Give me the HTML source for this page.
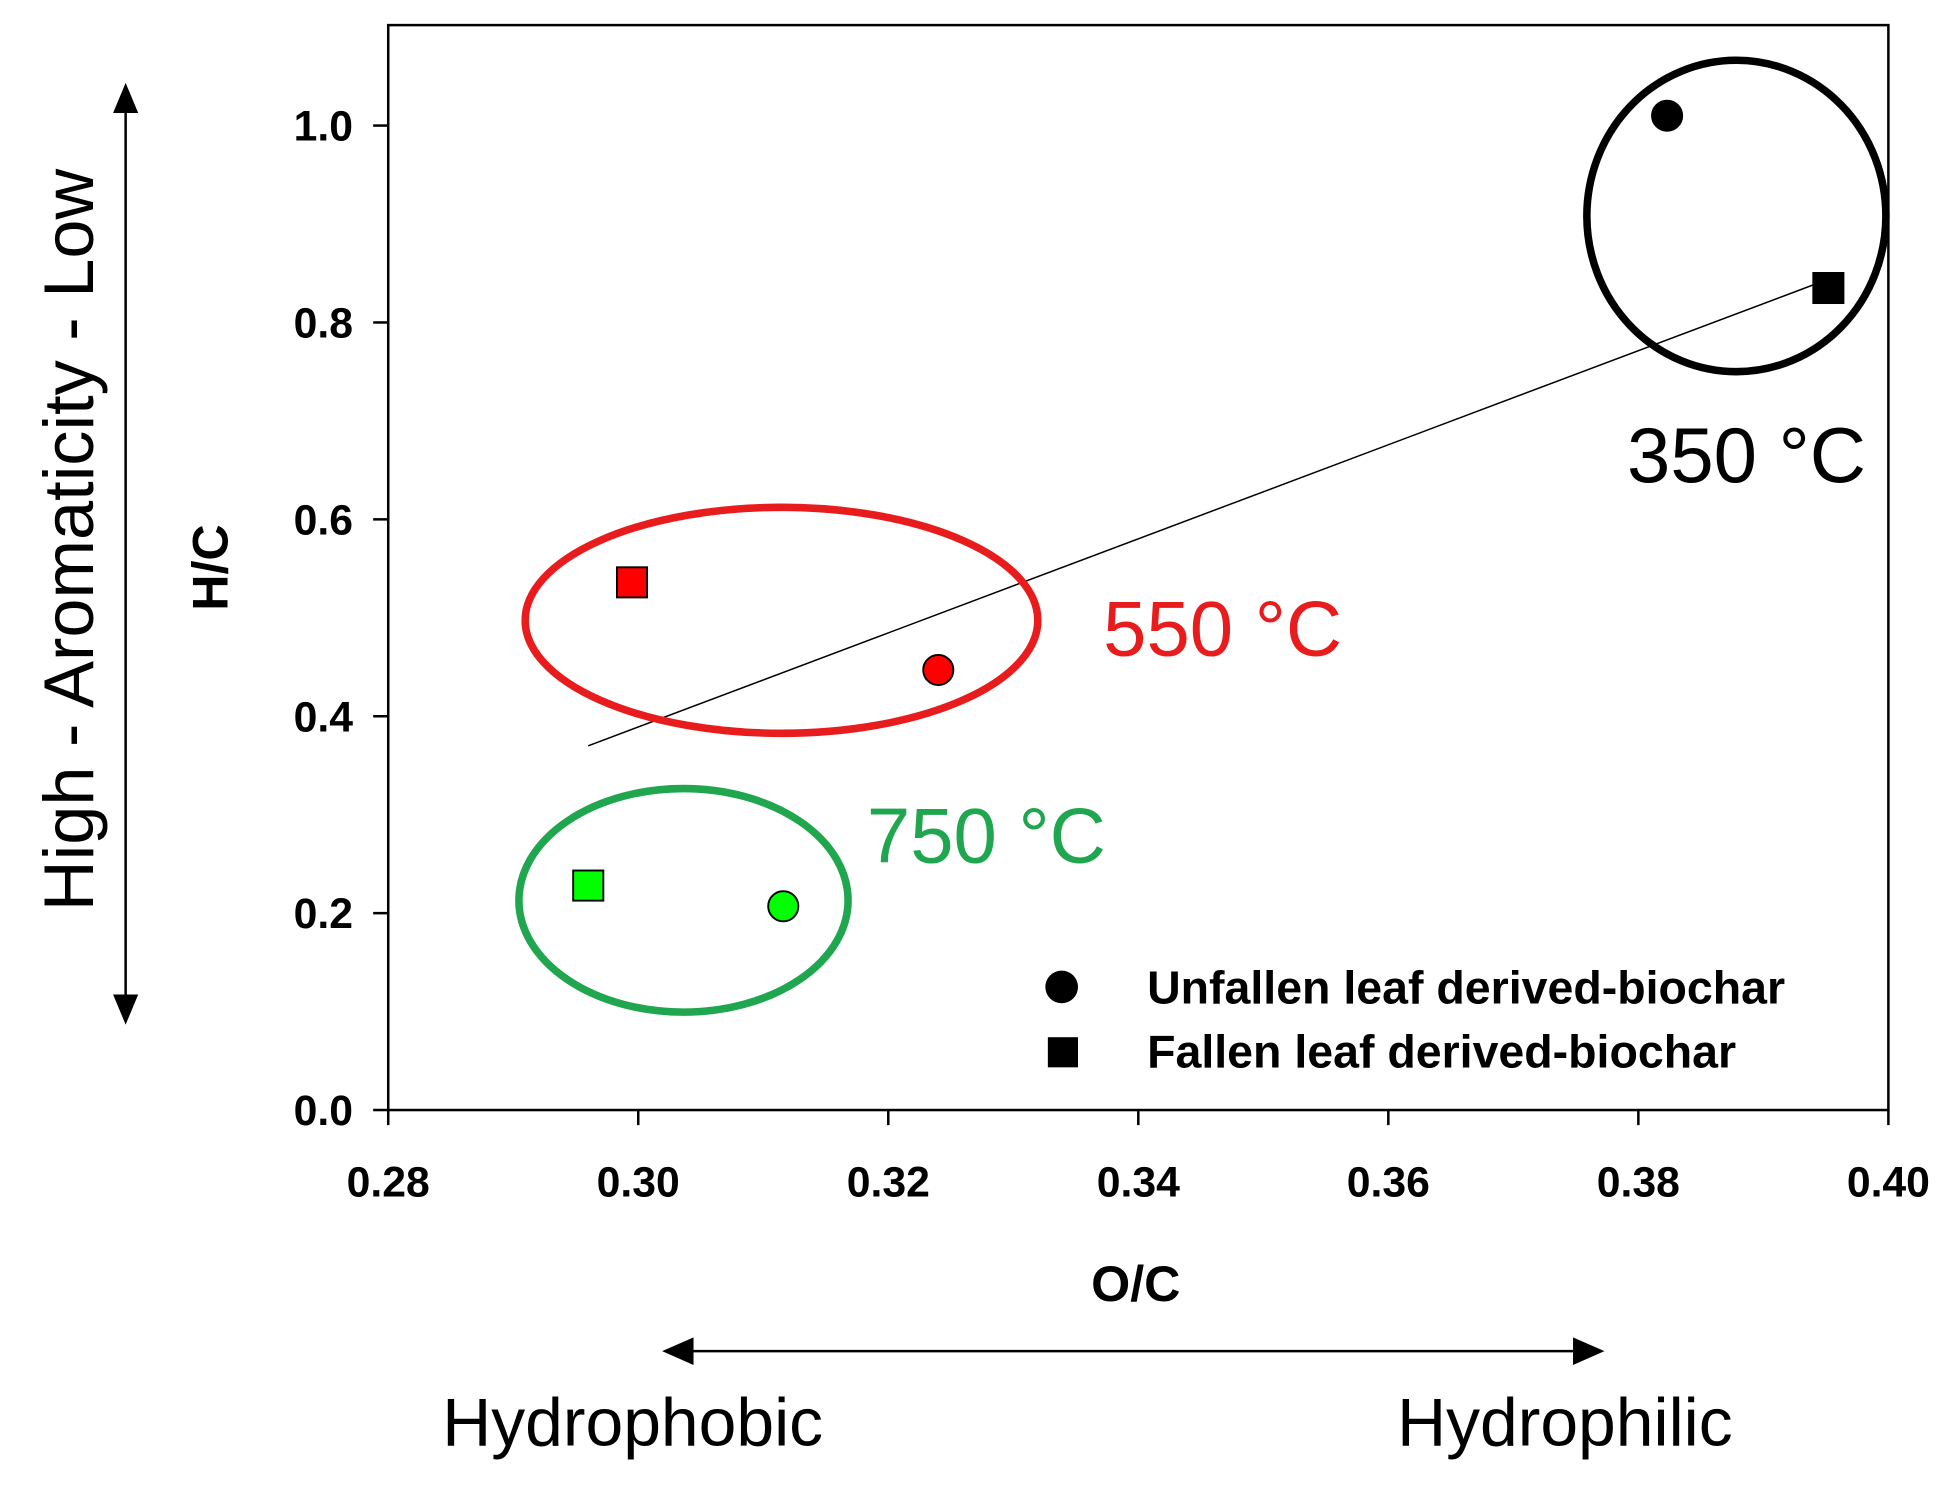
<!DOCTYPE html>
<html><head><meta charset="utf-8"><style>body{margin:0;background:#fff}svg{display:block}</style></head>
<body>
<svg width="1960" height="1488" viewBox="0 0 1560 1185" preserveAspectRatio="none" font-family="Liberation Sans, sans-serif">
<rect x="309" y="20" width="1194" height="864" fill="none" stroke="#000" stroke-width="2"/>
<g id="axes"></g>
<g id="marks"></g>
<ellipse cx="1382" cy="172" rx="119" ry="124" fill="none" stroke="#000" stroke-width="6"/>
<ellipse cx="622" cy="494" rx="204" ry="90" fill="none" stroke="#e81c1c" stroke-width="6"/>
<ellipse cx="544" cy="717" rx="131" ry="89" fill="none" stroke="#1fa64e" stroke-width="6"/>
<text x="1295" y="384" font-size="62" fill="#000">350 °C</text>
<text x="878" y="522" font-size="62" fill="#e81c1c">550 °C</text>
<text x="690" y="687" font-size="62" fill="#1fa64e">750 °C</text>
<circle cx="845" cy="786" r="13" fill="#000"/>
<text x="913" y="799" font-size="37" font-weight="bold">Unfallen leaf derived-biochar</text>
<rect x="834" y="826" width="24" height="24" fill="#000"/>
<text x="913" y="850" font-size="37" font-weight="bold">Fallen leaf derived-biochar</text>
<text x="904" y="1036" font-size="40" font-weight="bold" text-anchor="middle">O/C</text>
<text transform="translate(181,452) rotate(-90)" font-size="40" font-weight="bold" text-anchor="middle">H/C</text>
<line x1="100" y1="80" x2="100" y2="805" stroke="#000" stroke-width="2"/>
<polygon points="100,66 90,90 110,90" fill="#000"/><polygon points="100,816 90,792 110,792" fill="#000"/>
<text transform="translate(74,430) rotate(-90)" font-size="56" text-anchor="middle">High - Aromaticity - Low</text>
<line x1="540" y1="1076" x2="1265" y2="1076" stroke="#000" stroke-width="2"/>
<polygon points="527,1076 552,1065 552,1087" fill="#000"/><polygon points="1277,1076 1252,1065 1252,1087" fill="#000"/>
<text x="352" y="1151" font-size="54">Hydrophobic</text>
<text x="1112" y="1151" font-size="54">Hydrophilic</text>
</svg>
<script>
const xTicks=[0.28,0.30,0.32,0.34,0.36,0.38,0.40];
const yTicks=[0.0,0.2,0.4,0.6,0.8,1.0];
const unfallenX=[0.3823,0.3240,0.3116];
const unfallenY=[1.010,0.447,0.207];
const fallenX=[0.3952,0.2995,0.2960];
const fallenY=[0.835,0.536,0.228];
const fillColors=['#000000','#ff0000','#00ff00'];
const trendX=[0.296,0.395];
const trendY=[0.370,0.843];
const NS='http://www.w3.org/2000/svg';
const sx=v=>309+(v-0.28)/0.12*1194;
const sy=v=>884-v*784;
const axes=document.getElementById('axes'),marks=document.getElementById('marks');
function mk(t,a,p){const e=document.createElementNS(NS,t);for(const k in a)e.setAttribute(k,a[k]);p.appendChild(e);return e;}
xTicks.forEach(v=>{
 const l=mk('line',{x1:sx(v),x2:sx(v),y1:884,y2:896,stroke:'#000','stroke-width':2},axes);
 
 
 const t=mk('text',{x:sx(v),y:953,'font-size':34,'font-weight':'bold','text-anchor':'middle'},axes);
 t.textContent=v.toFixed(2);
 
 
});
yTicks.forEach(v=>{
 const l=mk('line',{x1:297,x2:309,y1:sy(v),y2:sy(v),stroke:'#000','stroke-width':2},axes);
 
 
 const t=mk('text',{x:281,y:sy(v)+12,'font-size':34,'font-weight':'bold','text-anchor':'end'},axes);
 t.textContent=v.toFixed(1);
 
 
});
const tl=mk('line',{x1:sx(trendX[0]),y1:sy(trendY[0]),x2:sx(trendX[1]),y2:sy(trendY[1]),stroke:'#000','stroke-width':1.2},marks);


unfallenX.forEach((x,i)=>{
 const c=mk('circle',{cx:sx(x),cy:sy(unfallenY[i]),r:12,fill:fillColors[i],stroke:'#000','stroke-width':1.5},marks);
 
 
});
fallenX.forEach((x,i)=>{
 const r=mk('rect',{x:sx(x)-12,y:sy(fallenY[i])-12,width:24,height:24,fill:fillColors[i],stroke:'#000','stroke-width':1.5},marks);
 
 
});
</script>
</body></html>
